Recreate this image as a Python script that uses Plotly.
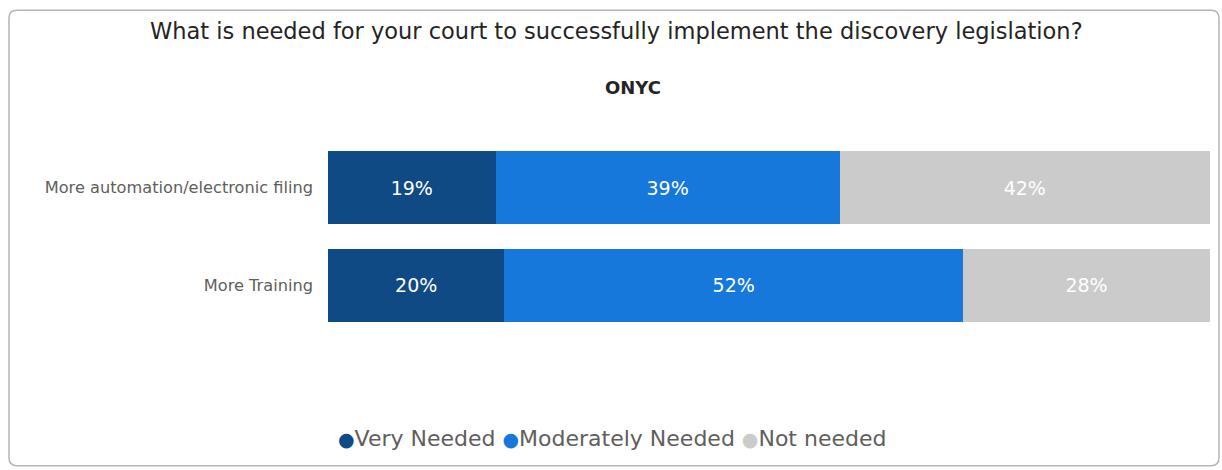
import plotly.graph_objects as go

# Survey responses (percent) per category
categories = ["More automation/electronic filing", "More Training"]
very_needed = [19, 20]
moderately_needed = [39, 52]
not_needed = [42, 28]
series_names = ["Very Needed", "Moderately Needed", "Not needed"]
series_colors = ["#0F4A85", "#1778DC", "#CBCBCB"]

W, H = 1222, 470
L, R, T, B = 328, 12, 138.5, 135.5
plot_w = W - L - R
plot_h = H - T - B


def px_x(px):
    return (px - L) / plot_w


def px_y(py):
    return (H - B - py) / plot_h


font_family = "DejaVu Sans, sans-serif"

fig = go.Figure()
for name, vals, col in zip(series_names, [very_needed, moderately_needed, not_needed], series_colors):
    fig.add_trace(go.Bar(
        y=categories, x=vals, name=name, orientation="h",
        marker=dict(color=col, line=dict(width=0)),
        text=[f"{v}%" for v in vals], textposition="inside",
        insidetextanchor="middle",
        textfont=dict(color="white", size=19, family=font_family),
        showlegend=False, hoverinfo="skip",
    ))

# Card border with rounded corners
x0, x1, y0, y1, r = 9, 1219, 9, 467, 8
path = (
    f"M {px_x(x0 + r)},{px_y(y0)} L {px_x(x1 - r)},{px_y(y0)} "
    f"Q {px_x(x1)},{px_y(y0)} {px_x(x1)},{px_y(y0 + r)} "
    f"L {px_x(x1)},{px_y(y1 - r)} Q {px_x(x1)},{px_y(y1)} {px_x(x1 - r)},{px_y(y1)} "
    f"L {px_x(x0 + r)},{px_y(y1)} Q {px_x(x0)},{px_y(y1)} {px_x(x0)},{px_y(y1 - r)} "
    f"L {px_x(x0)},{px_y(y0 + r)} Q {px_x(x0)},{px_y(y0)} {px_x(x0 + r)},{px_y(y0)} Z"
)
fig.add_shape(type="path", path=path, xref="paper", yref="paper",
              line=dict(color="#B5B5B5", width=1.5), layer="below")

annotations = [
    dict(text="What is needed for your court to successfully implement the discovery legislation?",
         x=px_x(616), y=px_y(30), font=dict(size=22.5, color="#252423", family=font_family)),
    dict(text="<b>ONYC</b>", x=px_x(633), y=px_y(87),
         font=dict(size=18, color="#252423", family=font_family)),
]

legend_html = "".join(
    f"<span style='color:{c};font-size:19px'>●</span>{n} "
    for n, c in zip(series_names, series_colors)
).strip()
annotations.append(dict(text=legend_html, x=px_x(612), y=px_y(440),
                        font=dict(size=22, color="#605E5C", family=font_family)))

for a in annotations:
    a.update(xref="paper", yref="paper", showarrow=False, xanchor="center", yanchor="middle")

fig.update_layout(
    width=W, height=H, barmode="stack", bargap=0.255,
    margin=dict(l=L, r=R, t=T, b=B, pad=0),
    plot_bgcolor="white", paper_bgcolor="white",
    annotations=annotations,
    xaxis=dict(range=[0, 100], visible=False, fixedrange=True),
    yaxis=dict(categoryorder="array", categoryarray=categories[::-1],
               showgrid=False, zeroline=False, showline=False, ticks="",
               ticklabelstandoff=14,
               tickfont=dict(size=16.2, color="#605E5C", family=font_family)),
)

fig.write_html("out.html")
